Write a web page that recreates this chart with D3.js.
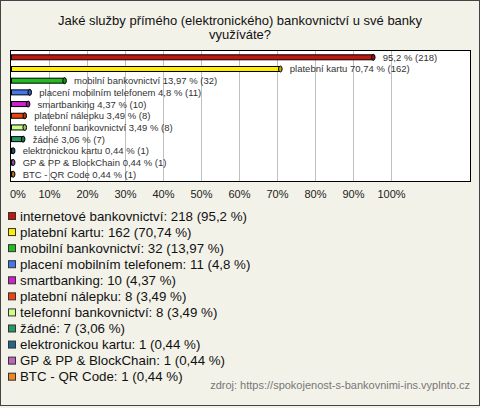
<!DOCTYPE html>
<html><head><meta charset="utf-8">
<script src="https://cdn.jsdelivr.net/npm/d3@7"></script>
<style>body{margin:0;background:#f3f2e9;}svg{display:block;font-family:"Liberation Sans",Arial,sans-serif;}</style>
</head><body>
<svg id="c" width="480" height="408"></svg>
<script>
const categories = ["internetové bankovnictví","platební kartu","mobilní bankovnictví","placení mobilním telefonem","smartbanking","platební nálepku","telefonní bankovnictví","žádné","elektronickou kartu","GP & PP & BlockChain","BTC - QR Code"];
const counts = [218,162,32,11,10,8,8,7,1,1,1];
const percents = [95.2,70.74,13.97,4.8,4.37,3.49,3.49,3.06,0.44,0.44,0.44];
const percentLabels = ["95,2","70,74","13,97","4,8","4,37","3,49","3,49","3,06","0,44","0,44","0,44"];
const colors = ["#c0180c","#ffee00","#22bb22","#4477ee","#cc22cc","#ee4411","#ccff88","#229966","#226688","#bb66bb","#ee8822"];
const ticks = [0,10,20,30,40,50,60,70,80,90,100];
const title = ["Jaké služby přímého (elektronického) bankovnictví u své banky","využíváte?"];
const source = "zdroj: https://spokojenost-s-bankovnimi-ins.vyplnto.cz";

const svg = d3.select("#c");
svg.append("rect").attr("x",0.5).attr("y",0.5).attr("width",479).attr("height",405).attr("fill","#f3f2e9").attr("stroke","#444");

svg.selectAll("text.title").data(title).join("text").attr("class","title")
  .attr("x",240).attr("y",(d,i)=>25+i*14).attr("text-anchor","middle")
  .attr("font-size",13).attr("fill","#111").text(d=>d);

const x = d3.scaleLinear().domain([0,100]).range([11.5,391.5]);
const y = d3.scalePoint().domain(categories).range([57.3,174.2]);

svg.append("rect").attr("x",10.5).attr("y",50.5).attr("width",460).attr("height",131).attr("fill","#fff").attr("stroke","#000");

svg.append("g").selectAll("line").data(ticks.slice(1)).join("line")
  .attr("x1",d=>x(d)).attr("x2",d=>x(d)).attr("y1",51).attr("y2",181)
  .attr("stroke","#c0c0c0");

svg.append("g").selectAll("text").data(ticks).join("text")
  .attr("x",d=>d===0?10:x(d)).attr("y",198).attr("text-anchor",d=>d===0?"start":"middle")
  .attr("font-size",11).attr("fill","#222").text(d=>d+"%");

const bh = 5;
const bars = svg.append("g").selectAll("g").data(categories).join("g");
bars.append("rect")
  .attr("x",x(0)).attr("y",d=>y(d)-bh/2)
  .attr("width",(d,i)=>Math.max(0,x(percents[i])-x(0))).attr("height",bh)
  .attr("fill",(d,i)=>colors[i]).attr("stroke","#000").attr("stroke-width",1);
bars.append("ellipse")
  .attr("cx",(d,i)=>x(percents[i])).attr("cy",d=>y(d))
  .attr("rx",1.8).attr("ry",bh/2+0.5)
  .attr("fill",(d,i)=>d3.color(colors[i]).darker(0.8)).attr("stroke","#000").attr("stroke-width",1);
bars.append("text")
  .attr("x",(d,i)=>x(percents[i])+9.5).attr("y",d=>y(d)+3.5)
  .attr("font-size",9.5).attr("fill","#333")
  .text((d,i)=>(i===0?"":d+" ")+percentLabels[i]+" % ("+counts[i]+")");

const lg = svg.append("g").selectAll("g").data(categories).join("g")
  .attr("transform",(d,i)=>`translate(0,${216+i*16.07})`);
lg.append("rect").attr("x",8.5).attr("y",-3.5).attr("width",7).attr("height",7)
  .attr("fill",(d,i)=>colors[i]).attr("stroke","#333");
lg.append("text").attr("x",20).attr("y",4.5).attr("font-size",13.3).attr("fill","#111")
  .text((d,i)=>d+": "+counts[i]+" ("+percentLabels[i]+" %)");

svg.append("text").attr("x",470).attr("y",389).attr("text-anchor","end")
  .attr("font-size",11).attr("fill","#777").text(source);
</script>
</body></html>
